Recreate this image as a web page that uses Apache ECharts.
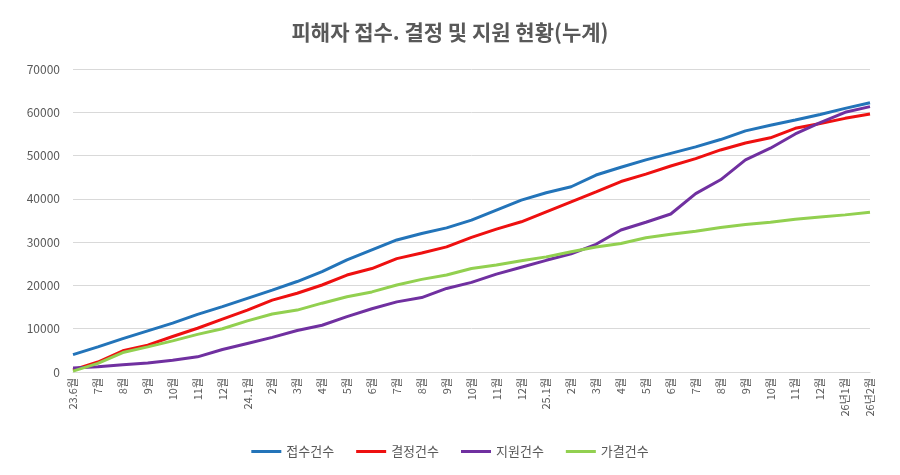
<!DOCTYPE html>
<html>
<head>
<meta charset="utf-8">
<script src="https://cdn.jsdelivr.net/npm/echarts@6/dist/echarts.min.js"></script>
<style>
  html, body { margin: 0; padding: 0; background: #fff; }
  #chart { width: 900px; height: 475px; }
</style>
</head>
<body>
<div id="chart"></div>
<script>
// x-axis categories (monthly, cumulative)
var months = [
  '23.6월', '7월', '8월', '9월', '10월', '11월', '12월',
  '24.1월', '2월', '3월', '4월', '5월', '6월', '7월', '8월', '9월', '10월', '11월', '12월',
  '25.1월', '2월', '3월', '4월', '5월', '6월', '7월', '8월', '9월', '10월', '11월', '12월',
  '26년1월', '26년2월'
];

// series values
var received = [
  4000, 5800, 7700, 9500, 11300, 13300, 15100,
  17000, 18900, 20900, 23200, 25900, 28200, 30500, 32000, 33300, 35100, 37400, 39700,
  41400, 42800, 45500, 47300, 49000, 50500, 52000, 53700, 55700, 57000, 58200, 59500,
  60900, 62200
];
var decided = [
  500, 2300, 4900, 6200, 8200, 10100, 12200,
  14300, 16600, 18200, 20100, 22400, 23900, 26200, 27500, 28900, 31100, 33000, 34700,
  37000, 39300, 41600, 44000, 45700, 47600, 49300, 51300, 52900, 54100, 56300, 57400,
  58600, 59600
];
var supported = [
  900, 1200, 1700, 2100, 2700, 3500, 5200,
  6600, 8000, 9600, 10800, 12800, 14600, 16200, 17200, 19300, 20700, 22600, 24200,
  25800, 27300, 29500, 32800, 34600, 36500, 41200, 44400, 49000, 51700, 55000, 57600,
  60000, 61300
];
var approved = [
  200, 2000, 4500, 5800, 7200, 8700, 10000,
  11800, 13400, 14300, 15900, 17400, 18500, 20100, 21400, 22400, 23900, 24700, 25700,
  26600, 27800, 28900, 29700, 31000, 31800, 32500, 33400, 34100, 34600, 35300, 35800,
  36300, 36900
];

var seriesNames = ['접수건수', '결정건수', '지원건수', '가결건수'];
var seriesColors = ['#2374b9', '#ee1010', '#7030a0', '#92d050'];
var seriesData = [received, decided, supported, approved];

var chartDom = document.getElementById('chart');
var myChart = echarts.init(chartDom);
var font = '"Noto Sans CJK KR", "Noto Sans", sans-serif';

var option = {
  animation: false,
  textStyle: { fontFamily: font },
  title: {
    text: '피해자 접수. 결정 및 지원 현황(누계)',
    left: 'center',
    top: 17,
    textStyle: { fontSize: 21, fontWeight: 'bold', color: '#595959', fontFamily: font }
  },
  legend: {
    bottom: 12,
    left: 'center',
    itemWidth: 30,
    itemHeight: 3,
    itemGap: 22,
    icon: 'rect',
    textStyle: { fontSize: 13, color: '#595959', fontFamily: font },
    data: seriesNames
  },
  grid: { left: 73, right: 30, top: 69, bottom: 103 },
  xAxis: {
    type: 'category',
    boundaryGap: false,
    data: months,
    axisLine: { lineStyle: { color: '#d9d9d9' } },
    axisTick: { show: false },
    axisLabel: {
      rotate: 90,
      interval: 0,
      fontSize: 11,
      color: '#595959',
      margin: 6
    }
  },
  yAxis: {
    type: 'value',
    min: 0,
    max: 70000,
    interval: 10000,
    axisLine: { show: false },
    axisTick: { show: false },
    axisLabel: {
      fontSize: 12,
      color: '#595959',
      margin: 13,
      formatter: function (v) { return String(v); }
    },
    splitLine: { lineStyle: { color: '#d9d9d9' } }
  },
  series: seriesNames.map(function (name, i) {
    return {
      name: name,
      type: 'line',
      data: seriesData[i],
      symbol: 'none',
      itemStyle: { color: seriesColors[i] },
      lineStyle: { width: 3, color: seriesColors[i] }
    };
  })
};

option && myChart.setOption(option);
</script>
</body>
</html>
